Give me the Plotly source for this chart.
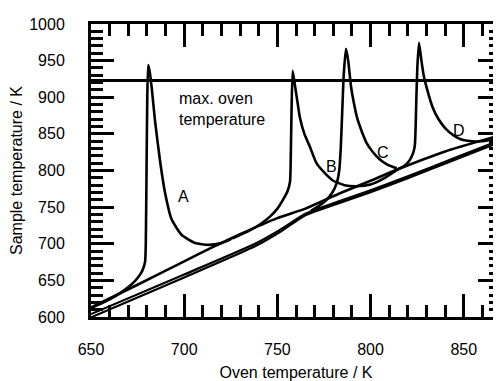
import plotly.graph_objects as go

# Oven temperature (x) / sample temperature (y)
u_x = [650, 675, 700, 715, 730, 750, 765, 783.6, 800, 814, 840, 870]
u_y = [613, 644, 676, 695, 713, 735, 748, 769, 786, 801, 826, 848.5]

l1_x = [650, 700, 738, 752, 765, 783, 800, 820, 845, 870]
l1_y = [604, 658, 700, 720, 741, 758, 773, 792, 817, 842]
l2_x = [650, 700, 738, 752, 765, 783, 800, 820, 845, 870]
l2_y = [599.5, 654, 696.5, 717, 739, 755.5, 770.5, 789.5, 814.5, 839.5]

a_x = [650, 660, 667, 672, 675.5, 677.5, 679, 679.4, 679.8, 680.2, 680.7,
       681.5, 682.7, 684.3, 687, 689.7, 693.3, 698.7, 705.8, 713, 720, 725]
a_y = [612, 624, 635, 645, 655, 663, 675, 700, 800, 900, 944,
       935, 910, 869, 814, 770, 733, 712, 701, 698.5, 701, 706]

b_x = [726, 735, 741, 746, 750, 753, 755.5, 756.8, 757.2, 757.6, 758.2,
       759.5, 761, 762, 764.5, 767.5, 771, 776, 780, 786, 792.5, 800, 807, 814]
b_y = [707.5, 718, 727, 737, 748, 760, 772, 785, 820, 880, 936,
       915, 890, 873.5, 850, 832, 810, 795, 786, 780, 778.5, 781, 789, 800.5]

c_x = [768, 772, 776.4, 779.5, 781.8, 783.2, 784, 784.8, 785.6, 786.8,
       788, 789.5, 791, 793, 795.5, 798, 801, 805, 809, 814]
c_y = [745, 751, 760, 770, 782.5, 800, 830, 880, 930, 966,
       950, 915, 893, 870, 852, 837, 826, 815, 808, 803]

d_x = [814, 818, 821, 823, 823.8, 824.2, 824.6, 825.1, 826,
       827.3, 828.5, 831, 833.5, 836.5, 840, 844, 848, 852, 857, 862, 866, 870]
d_y = [801, 806, 814, 825, 835, 860, 900, 940, 974.5,
       950, 930, 905, 885, 870, 858, 849, 843, 840.5, 839.5, 840.5, 843.5, 847.5]

max_oven_x = [650, 870]
max_oven_y = [923, 923]

labels = ["A", "B", "C", "D"]
label_x = [699.4, 779, 806.8, 847.4]
label_y = [764, 805, 824, 855]

FONT = "Liberation Sans, Arial, Helvetica, sans-serif"
fig = go.Figure()

def add(x, y, w=2.6):
    fig.add_trace(go.Scatter(x=x, y=y, mode="lines",
                             line=dict(color="black", width=w, shape="spline", smoothing=0.5),
                             showlegend=False, hoverinfo="skip"))

add(l2_x, l2_y, 2.2)
add(l1_x, l1_y, 2.2)
add(u_x, u_y)
add(a_x, a_y)
add(b_x, b_y)
add(c_x, c_y)
add(d_x, d_y)
fig.add_trace(go.Scatter(x=max_oven_x, y=max_oven_y, mode="lines",
                         line=dict(color="black", width=3), showlegend=False))

for t, x, y in zip(labels, label_x, label_y):
    fig.add_annotation(x=x, y=y, text=t, showarrow=False,
                       font=dict(family=FONT, size=16, color="black"))
fig.add_annotation(x=696, y=884, text="max. oven<br>temperature", showarrow=False,
                   xanchor="left", align="left",
                   font=dict(family=FONT, size=16, color="black"))

axis_common = dict(showline=True, linewidth=3, linecolor="black", mirror="allticks",
                   ticks="inside", ticklen=23, tickwidth=3, tickcolor="black",
                   showgrid=False, zeroline=False, automargin=False,
                   tickfont=dict(family=FONT, size=16, color="black"))

fig.update_xaxes(range=[650, 870], tickmode="array", tickvals=[650, 700, 750, 800, 850],
                 minor=dict(dtick=10, ticks="inside", ticklen=12, tickwidth=3, tickcolor="black", showgrid=False),
                 ticklabelstandoff=16,
                 title=dict(text="Oven temperature / K", font=dict(family=FONT, size=16, color="black"), standoff=11),
                 **axis_common)
fig.update_yaxes(range=[600, 1000], tickmode="array",
                 tickvals=[600, 650, 700, 750, 800, 850, 900, 950, 1000],
                 minor=dict(dtick=10, ticks="inside", ticklen=12, tickwidth=3, tickcolor="black", showgrid=False),
                 ticklabelstandoff=20,
                 title=dict(text="Sample temperature / K", font=dict(family=FONT, size=16, color="black"), standoff=8),
                 **axis_common)

# page body adds an ~8 px offset, so the figure is sized to land the plot area where the reference has it
fig.update_layout(width=493, height=373, margin=dict(l=83, r=0, t=16, b=64, autoexpand=False),
                  paper_bgcolor="white", plot_bgcolor="white")
fig.write_html("out.html")
